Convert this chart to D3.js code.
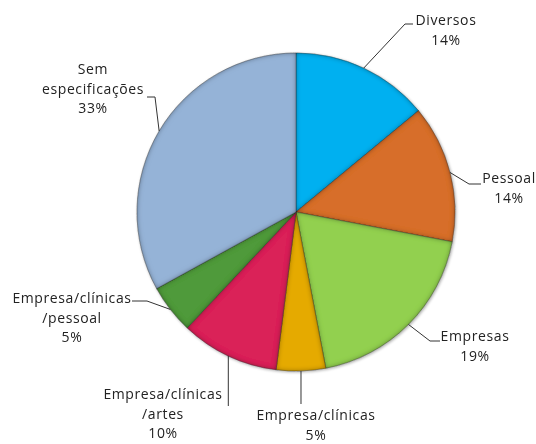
<!DOCTYPE html>
<html>
<head>
<meta charset="utf-8">
<script src="https://cdn.jsdelivr.net/npm/d3@7"></script>
<style>
  html, body { margin: 0; padding: 0; background: #fff; }
  svg { display: block; }
  text { font-family: "Open Sans", "DejaVu Sans", sans-serif; font-size: 14px; fill: #222; letter-spacing: 0.6px; }
</style>
</head>
<body>
<svg id="chart" width="536" height="444"></svg>
<script>
// Share of records by category (percent), clockwise from 12 o'clock
const categories = [
  "Diversos",
  "Pessoal",
  "Empresas",
  "Empresa/clínicas",
  "Empresa/clínicas/artes",
  "Empresa/clínicas/pessoal",
  "Sem especificações"
];
const values = [14, 14, 19, 5, 10, 5, 33];
const percentLabels = ["14%", "14%", "19%", "5%", "10%", "5%", "33%"];
// Label text broken into lines as printed
const labelLines = [
  ["Diversos"],
  ["Pessoal"],
  ["Empresas"],
  ["Empresa/clínicas"],
  ["Empresa/clínicas", "/artes"],
  ["Empresa/clínicas", "/pessoal"],
  ["Sem", "especificações"]
];
const colors = ["#00B0F0", "#D76E2B", "#92D050", "#E5AA00", "#DA2459", "#4F9A3A", "#95B3D7"];

// Label placement: text centre, first baseline, leader elbow and end
const labelLayout = [
  { x: 446, y: 25,  elbow: [405, 24],  end: [413, 24] },
  { x: 509, y: 183, elbow: [469, 184], end: [481, 184] },
  { x: 475, y: 341, elbow: [430, 341], end: [440, 341] },
  { x: 316, y: 420, elbow: null,       end: [null, 404] },
  { x: 163, y: 399, elbow: null,       end: [null, 406] },
  { x: 72,  y: 303, elbow: [147, 301], end: [132, 301] },
  { x: 93,  y: 74,  elbow: [155, 97],  end: [147, 97] }
];

const lineGap = 19.5;
const cx = 296, cy = 212, R = 159;

const svg = d3.select("#chart");
const defs = svg.append("defs");

// Bevel-like inner shadow along each slice's edges
const f = defs.append("filter").attr("id", "innerShade")
  .attr("x", "-5%").attr("y", "-5%").attr("width", "110%").attr("height", "110%");
f.append("feComponentTransfer").attr("in", "SourceAlpha").attr("result", "inv")
  .append("feFuncA").attr("type", "table").attr("tableValues", "1 0");
f.append("feGaussianBlur").attr("in", "inv").attr("stdDeviation", 2.6).attr("result", "blur");
f.append("feFlood").attr("flood-color", "#000").attr("flood-opacity", 0.75).attr("result", "col");
f.append("feComposite").attr("in", "col").attr("in2", "blur").attr("operator", "in").attr("result", "sh");
f.append("feComposite").attr("in", "sh").attr("in2", "SourceAlpha").attr("operator", "in").attr("result", "shIn");
const m = f.append("feMerge");
m.append("feMergeNode").attr("in", "SourceGraphic");
m.append("feMergeNode").attr("in", "shIn");

// Soft drop shadow under the whole pie
const ds = defs.append("filter").attr("id", "drop")
  .attr("x", "-10%").attr("y", "-10%").attr("width", "120%").attr("height", "120%");
ds.append("feGaussianBlur").attr("in", "SourceAlpha").attr("stdDeviation", 1.5).attr("result", "b");
ds.append("feOffset").attr("in", "b").attr("dx", 0.5).attr("dy", 1).attr("result", "o");
ds.append("feComponentTransfer").attr("in", "o").attr("result", "o2")
  .append("feFuncA").attr("type", "linear").attr("slope", 0.35);
const dm = ds.append("feMerge");
dm.append("feMergeNode").attr("in", "o2");
dm.append("feMergeNode").attr("in", "SourceGraphic");

const data = categories.map((c, i) => ({ name: c, value: values[i], i }));

const pie = d3.pie().value(d => d.value).sort(null);
const arcs = pie(data);
const arc = d3.arc().innerRadius(0).outerRadius(R);
const edgeArc = d3.arc().innerRadius(R).outerRadius(R);

const g = svg.append("g").attr("transform", `translate(${cx},${cy})`);
const pieG = g.append("g").attr("filter", "url(#drop)");

pieG.selectAll("path.slice")
  .data(arcs)
  .join("path")
  .attr("class", "slice")
  .attr("d", arc)
  .attr("fill", d => colors[d.data.i])
  .attr("stroke", "rgba(60,60,60,0.5)")
  .attr("stroke-width", 0.7)
  .attr("filter", "url(#innerShade)");

// Leader lines from each slice's mid-edge to its label
const leaders = svg.append("g").attr("fill", "none").attr("stroke", "#333").attr("stroke-width", 1);
arcs.forEach(a => {
  const L = labelLayout[a.data.i];
  const p = edgeArc.centroid(a);
  const start = [cx + p[0], cy + p[1]];
  const pts = [start];
  if (L.elbow) pts.push(L.elbow);
  pts.push([L.end[0] == null ? start[0] : L.end[0], L.end[1]]);
  leaders.append("path").attr("d", d3.line()(pts));
});

// Category and percentage labels
const labels = svg.append("g").attr("text-anchor", "middle");
arcs.forEach(a => {
  const i = a.data.i;
  const L = labelLayout[i];
  const lines = labelLines[i].concat([percentLabels[i]]);
  const t = labels.append("text").attr("x", L.x).attr("y", L.y);
  lines.forEach((s, k) => {
    t.append("tspan").attr("x", L.x).attr("dy", k === 0 ? 0 : lineGap).text(s);
  });
});
</script>
</body>
</html>
